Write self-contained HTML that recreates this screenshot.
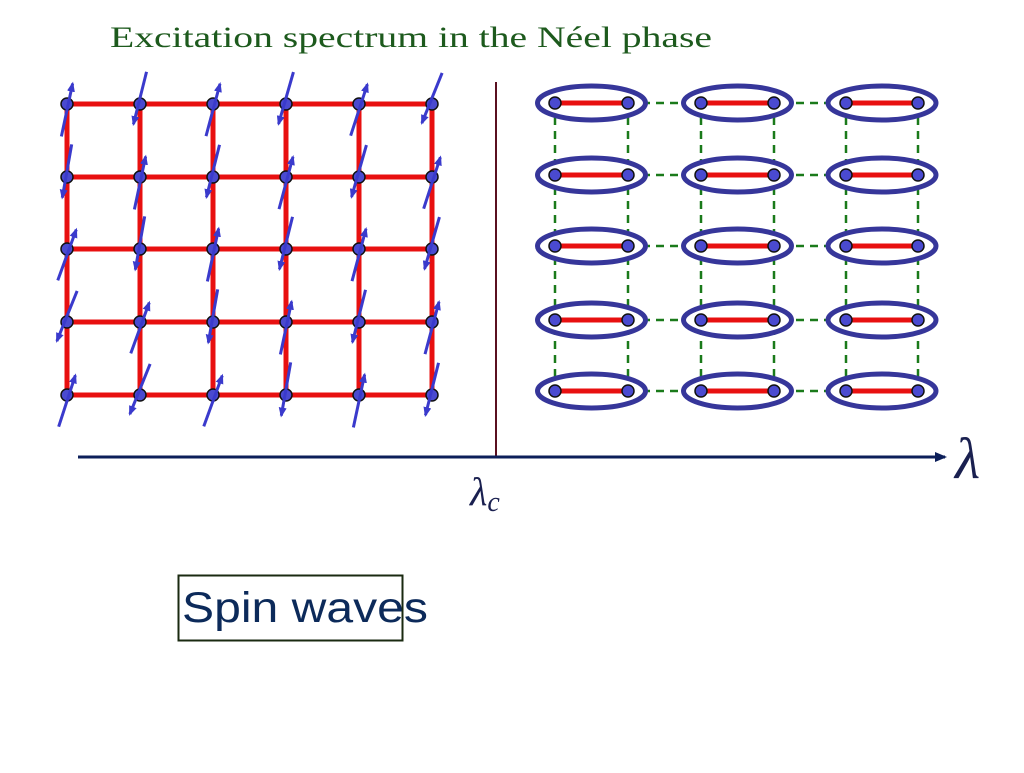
<!DOCTYPE html>
<html><head><meta charset="utf-8"><style>
body{margin:0;background:#fff;width:1024px;height:768px;overflow:hidden}
</style></head><body>
<svg id="s" width="1024" height="768" xmlns="http://www.w3.org/2000/svg">
<defs>
<marker id="ah" markerWidth="10" markerHeight="8" refX="8" refY="4" orient="auto" markerUnits="userSpaceOnUse"><path d="M0,0 L10,4 L0,8 z" fill="#3a3acc"/></marker>
<marker id="ax" markerWidth="12" markerHeight="10" refX="10" refY="5" orient="auto" markerUnits="userSpaceOnUse"><path d="M0,0 L12,5 L0,10 z" fill="#0c1f5a"/></marker>
</defs>
<text x="110" y="47" font-family="Liberation Serif, serif" font-size="30" fill="#1d5a1d" textLength="602" lengthAdjust="spacingAndGlyphs">Excitation spectrum in the Néel phase</text>
<g id="g"></g>
<line x1="496" y1="82" x2="496" y2="458" stroke="#5a1020" stroke-width="2"/>
<line x1="78" y1="457" x2="945" y2="457" stroke="#0c1f5a" stroke-width="3" marker-end="url(#ax)"/>
<text x="470" y="505" font-family="Liberation Serif, serif" font-style="italic" font-size="40" fill="#1a2050">λ<tspan font-size="28" dy="6">c</tspan></text>
<text x="955" y="478" font-family="Liberation Serif, serif" font-style="italic" font-size="58" fill="#1a2050">λ</text>
<rect x="178.5" y="575.5" width="224" height="65" fill="none" stroke="#1a2a10" stroke-width="2"/>
<text x="182" y="622" font-family="Liberation Sans, sans-serif" font-size="43" fill="#0c2a5a" textLength="246" lengthAdjust="spacingAndGlyphs">Spin waves</text>
</svg>
<script>
var g=document.getElementById('g'),h='',ar='';
var xs=[67,140,213,286,359,432],ys=[104,177,249,322,395];
ys.forEach(function(y){h+='<line x1="67" y1="'+y+'" x2="432" y2="'+y+'" stroke="#e81010" stroke-width="5"/>';});
xs.forEach(function(x){h+='<line x1="'+x+'" y1="104" x2="'+x+'" y2="395" stroke="#e81010" stroke-width="5"/>';});
var ang=[12,16,20,14,18,10,15,22];
xs.forEach(function(x,i){ys.forEach(function(y,j){
 var a=ang[(i*3+j*5)%8]*Math.PI/180, L=27;
 var dx=Math.sin(a)*L, dy=Math.cos(a)*L;
 var up=(i+j)%2==0;
 var sh=up?6:-6;
 var x1=x-dx,y1=y+dy+sh,x2=x+dx,y2=y-dy+sh;
 if(up) ar+='<line x1="'+x1+'" y1="'+y1+'" x2="'+x2+'" y2="'+y2+'" stroke="#3a3acc" stroke-width="3" marker-end="url(#ah)"/>';
 else ar+='<line x1="'+x2+'" y1="'+y2+'" x2="'+x1+'" y2="'+y1+'" stroke="#3a3acc" stroke-width="3" marker-end="url(#ah)"/>';
 h+='<circle cx="'+x+'" cy="'+y+'" r="6" fill="#4a4ad0" stroke="#111" stroke-width="1.5"/>';
});});
h+=ar;
var L2=[555,701,846],R2=[628,774,918],Y2=[103,175,246,320,391];
Y2.forEach(function(y){h+='<line x1="628" y1="'+y+'" x2="846" y2="'+y+'" stroke="#1a7a1a" stroke-width="2.5" stroke-dasharray="8,6"/>';});
L2.concat(R2).forEach(function(x){h+='<line x1="'+x+'" y1="103" x2="'+x+'" y2="391" stroke="#1a7a1a" stroke-width="2.5" stroke-dasharray="8,6"/>';});
Y2.forEach(function(y){for(var k=0;k<3;k++){var a=L2[k],b=R2[k],c=(a+b)/2;
 h+='<ellipse cx="'+c+'" cy="'+y+'" rx="54" ry="17" fill="#fff" stroke="#36369a" stroke-width="5"/>';
 h+='<line x1="'+a+'" y1="'+y+'" x2="'+b+'" y2="'+y+'" stroke="#e81010" stroke-width="5"/>';
 h+='<circle cx="'+a+'" cy="'+y+'" r="6" fill="#4a4ad0" stroke="#111" stroke-width="1.5"/>';
 h+='<circle cx="'+b+'" cy="'+y+'" r="6" fill="#4a4ad0" stroke="#111" stroke-width="1.5"/>';
}});
g.innerHTML=h;
</script>
</body></html>
